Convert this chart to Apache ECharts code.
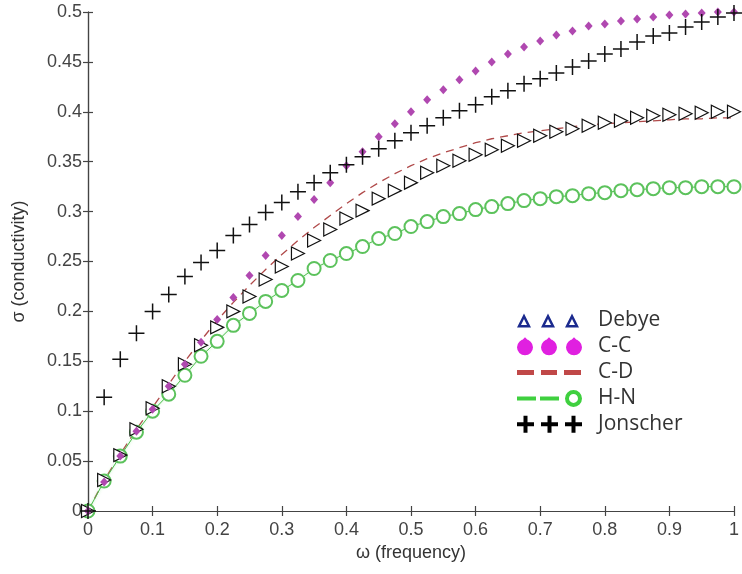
<!DOCTYPE html>
<html lang="en">
<head>
<meta charset="UTF-8">
<script src="https://cdn.jsdelivr.net/npm/echarts@6/dist/echarts.min.js"></script>
<style>
    html, body { margin: 0; padding: 0; background: #fff; }
    #pic { width: 742px; height: 574px; }
</style>
<title>conductivity</title>
</head>
<body>
<div id="pic"></div>
<script type="text/javascript">
// frequency samples (x axis)
var omega = [0, 0.025, 0.05, 0.075, 0.1, 0.125, 0.15, 0.175, 0.2, 0.225, 0.25, 0.275, 0.3, 0.325, 0.35, 0.375, 0.4,
    0.425, 0.45, 0.475, 0.5, 0.525, 0.55, 0.575, 0.6, 0.625, 0.65, 0.675, 0.7, 0.725, 0.75, 0.775, 0.8, 0.825, 0.85,
    0.875, 0.9, 0.925, 0.95, 0.975, 1];

// values
var debye = [0, 0.031, 0.056, 0.082, 0.103, 0.125, 0.147, 0.166, 0.184, 0.200, 0.215, 0.232, 0.245, 0.258, 0.271,
    0.282, 0.293, 0.301, 0.313, 0.321, 0.329, 0.339, 0.346, 0.351, 0.357, 0.362, 0.366, 0.371, 0.376, 0.380, 0.383,
    0.386, 0.389, 0.391, 0.394, 0.396, 0.397, 0.398, 0.399, 0.400, 0.400];
var cc = [0, 0.029, 0.055, 0.080, 0.102, 0.125, 0.147, 0.169, 0.192, 0.214, 0.236, 0.256, 0.276, 0.295, 0.312,
    0.329, 0.346, 0.360, 0.375, 0.388, 0.400, 0.412, 0.422, 0.432, 0.441, 0.450, 0.458, 0.465, 0.471, 0.477, 0.481,
    0.486, 0.488, 0.491, 0.493, 0.495, 0.497, 0.498, 0.499, 0.500, 0.500];
var cd = [0, 0.031, 0.057, 0.082, 0.104, 0.127, 0.150, 0.171, 0.191, 0.209, 0.226, 0.242, 0.257, 0.271, 0.284,
    0.296, 0.308, 0.319, 0.329, 0.338, 0.346, 0.353, 0.359, 0.364, 0.369, 0.373, 0.376, 0.379, 0.381, 0.383, 0.385,
    0.387, 0.388, 0.389, 0.390, 0.391, 0.392, 0.393, 0.393, 0.394, 0.394];
var hn = [0, 0.030, 0.055, 0.079, 0.100, 0.117, 0.136, 0.155, 0.170, 0.186, 0.198, 0.210, 0.221, 0.231, 0.243,
    0.251, 0.258, 0.265, 0.273, 0.278, 0.285, 0.290, 0.295, 0.298, 0.302, 0.305, 0.308, 0.311, 0.313, 0.315, 0.316,
    0.318, 0.319, 0.321, 0.322, 0.323, 0.324, 0.324, 0.325, 0.325, 0.325];
var jonscher = [0, 0.114, 0.152, 0.178, 0.200, 0.217, 0.235, 0.249, 0.261, 0.276, 0.287, 0.299, 0.309, 0.320, 0.329,
    0.339, 0.347, 0.355, 0.363, 0.371, 0.379, 0.386, 0.394, 0.401, 0.407, 0.415, 0.421, 0.428, 0.433, 0.439, 0.445,
    0.451, 0.458, 0.463, 0.470, 0.476, 0.479, 0.485, 0.490, 0.495, 0.499];

function pairs(arr) {
    return omega.map(function (x, i) { return [x, arr[i]]; });
}

// legend icons: three marks each, in a 68x18 box (the M0,0 M68,18 pins the box)
var box = 'M0,0 M68,18 ';
var iconDebye = 'path://' + box +
    'M0,16 L7,2 L14,16 Z M4,13.5 L10,13.5 L7,7.5 Z ' +
    'M24,16 L31,2 L38,16 Z M28,13.5 L34,13.5 L31,7.5 Z ' +
    'M48,16 L55,2 L62,16 Z M52,13.5 L58,13.5 L55,7.5 Z';
var iconCC = 'path://' + box +
    'M0,10 A8,8 0 1,1 16,10 A8,8 0 1,1 0,10 Z M5,3 L8,0 L11,3 Z ' +
    'M24,10 A8,8 0 1,1 40,10 A8,8 0 1,1 24,10 Z M29,3 L32,0 L35,3 Z ' +
    'M49,10 A8,8 0 1,1 65,10 A8,8 0 1,1 49,10 Z M54,3 L57,0 L60,3 Z';
var iconCD = 'path://' + box +
    'M0,7 h17 v5 h-17 Z M24,7 h16 v5 h-16 Z M47,7 h17 v5 h-17 Z';
var iconHN = 'path://' + box +
    'M0,7.5 h19 v4 h-19 Z M23,7.5 h19 v4 h-19 Z ' +
    'M48,9.5 A8.5,8.5 0 1,1 65,9.5 A8.5,8.5 0 1,1 48,9.5 Z M52,9.5 A4.5,4.5 0 1,0 61,9.5 A4.5,4.5 0 1,0 52,9.5 Z';
var iconJon = 'path://' + box +
    'M6.5,1 h4 v6.5 h6.5 v4 h-6.5 v6.5 h-4 v-6.5 h-6.5 v-4 h6.5 Z ' +
    'M30.5,1 h4 v6.5 h6.5 v4 h-6.5 v6.5 h-4 v-6.5 h-6.5 v-4 h6.5 Z ' +
    'M54.5,1 h4 v6.5 h6.5 v4 h-6.5 v6.5 h-4 v-6.5 h-6.5 v-4 h6.5 Z';

var plusSymbol = 'path://M-0.75,-8 h1.5 v7.25 h7.25 v1.5 h-7.25 v7.25 h-1.5 v-7.25 h-7.25 v-1.5 h7.25 Z';

function drawPic() {
    var myChart = echarts.init(document.getElementById('pic'));
    var tickFont = {fontFamily: 'Liberation Sans', fontSize: 18, color: '#444'};
    var axisLineStyle = {lineStyle: {color: '#444', width: 1.2}};
    var tick = {show: true, inside: true, length: 5, lineStyle: {color: '#444', width: 1.2}};

    var option = {
        animation: false,
        backgroundColor: '#fff',
        grid: {left: 88, right: 2, top: 12, bottom: 63},
        legend: {
            orient: 'vertical',
            left: 512,
            top: 305,
            itemWidth: 68,
            itemHeight: 18,
            itemGap: 4.8,
            selectedMode: false,
            textStyle: {fontFamily: 'Open Sans', fontSize: 21, color: '#333', padding: [0, 0, 0, 8], lineHeight: 18},
            data: [
                {name: 'Debye', icon: iconDebye, itemStyle: {color: '#1b2a8e', borderWidth: 0}},
                {name: 'C-C', icon: iconCC, itemStyle: {color: '#e020e0', borderWidth: 0}},
                {name: 'C-D', icon: iconCD, itemStyle: {color: '#c04848', borderWidth: 0}},
                {name: 'H-N', icon: iconHN, itemStyle: {color: '#3fd03f', borderWidth: 0}},
                {name: 'Jonscher', icon: iconJon, itemStyle: {color: '#000', borderWidth: 0}}
            ]
        },
        xAxis: [
            {
                type: 'value', min: 0, max: 1, interval: 0.1,
                name: 'ω (frequency)', nameLocation: 'middle', nameGap: 32,
                nameTextStyle: {fontFamily: 'Liberation Sans', fontSize: 18, color: '#333'},
                axisLine: axisLineStyle, axisTick: tick,
                axisLabel: Object.assign({margin: 10, showMaxLabel: true}, tickFont),
                splitLine: {show: false}
            },
            {
                type: 'value', min: 0, max: 1, interval: 0.1, position: 'top',
                axisLine: axisLineStyle, axisTick: tick, axisLabel: {show: false}, splitLine: {show: false}
            }
        ],
        yAxis: [
            {
                type: 'value', min: 0, max: 0.5, interval: 0.05,
                name: 'σ (conductivity)', nameLocation: 'middle', nameGap: 60,
                nameTextStyle: {fontFamily: 'Liberation Sans', fontSize: 18, color: '#333'},
                axisLine: axisLineStyle, axisTick: tick,
                axisLabel: Object.assign({margin: 6}, tickFont),
                splitLine: {show: false}
            },
            {
                type: 'value', min: 0, max: 0.5, interval: 0.05, position: 'right',
                axisLine: axisLineStyle, axisTick: tick, axisLabel: {show: false}, splitLine: {show: false}
            }
        ],
        series: [
            {
                name: 'C-D', type: 'line', data: pairs(cd), showSymbol: false, symbol: 'none',
                lineStyle: {color: '#b04a4a', width: 1.3, type: [8, 6]},
                itemStyle: {color: '#c04848'}, z: 2
            },
            {
                name: 'H-N', type: 'line', data: pairs(hn), symbol: 'emptyCircle', symbolSize: 13,
                showAllSymbol: true,
                lineStyle: {color: '#4cbc4c', width: 1, shadowColor: 'rgba(120,230,120,0.6)', shadowBlur: 3},
                itemStyle: {color: '#5cc25c', borderColor: '#5cc25c', borderWidth: 0.9}, z: 3
            },
            {
                name: 'Debye', type: 'scatter', data: pairs(debye), symbol: 'triangle', symbolRotate: -90,
                symbolSize: 13,
                itemStyle: {color: '#fff', borderColor: '#111', borderWidth: 1.2, opacity: 1}, z: 4
            },
            {
                name: 'C-C', type: 'scatter', data: pairs(cc), symbol: 'diamond', symbolSize: [8, 9],
                itemStyle: {color: '#b048b0', opacity: 1}, z: 5
            },
            {
                name: 'Jonscher', type: 'scatter', data: pairs(jonscher), symbol: plusSymbol, symbolSize: 16,
                itemStyle: {color: '#111', opacity: 1}, z: 6
            }
        ]
    };
    myChart.setOption(option);
}

drawPic();
</script>
</body>
</html>
